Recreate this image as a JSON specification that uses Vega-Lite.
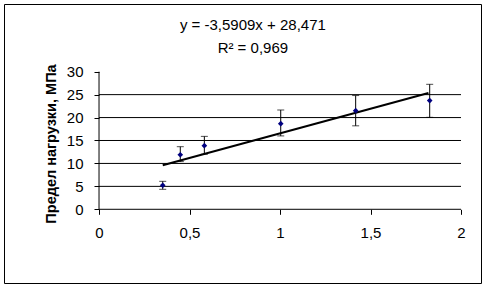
{
  "$schema": "https://vega.github.io/schema/vega-lite/v6.json",
  "width": 477,
  "height": 279,
  "autosize": "none",
  "padding": {"left": 4, "top": 4, "right": 6, "bottom": 5},
  "background": "white",
  "config": {
    "view": {"stroke": "#000", "strokeWidth": 1},
    "font": "Liberation Sans"
  },
  "datasets": {
    "lines": [
      {"x": 0, "x2": 2, "y": 0, "y2": 0},
      {"x": 0, "x2": 0, "y": 0, "y2": 30},
      {"x": 0, "x2": 2, "y": 5, "y2": 5},
      {"x": 0, "x2": 2, "y": 10, "y2": 10},
      {"x": 0, "x2": 2, "y": 15, "y2": 15},
      {"x": 0, "x2": 2, "y": 20, "y2": 20},
      {"x": 0, "x2": 2, "y": 25, "y2": 25}
    ],
    "points": [
      {"x": 0.352, "y": 5.23, "lo": 4.36, "hi": 6.1},
      {"x": 0.449, "y": 11.9, "lo": 10.4, "hi": 13.65},
      {"x": 0.582, "y": 13.87, "lo": 12.0, "hi": 15.9},
      {"x": 1.004, "y": 18.67, "lo": 16.0, "hi": 21.65},
      {"x": 1.418, "y": 21.5, "lo": 18.2, "hi": 24.8},
      {"x": 1.827, "y": 23.7, "lo": 20.05, "hi": 27.25}
    ],
    "trend": [
      {"x": 0.352, "y": 9.6},
      {"x": 1.82, "y": 25.35}
    ],
    "labels": [
      {"x": 0.85, "y": 40.2, "text": "y = -3,5909x + 28,471"},
      {"x": 0.85, "y": 35.2, "text": "R² = 0,969"}
    ]
  },
  "layer": [
    {
      "data": {"name": "lines"},
      "mark": {"type": "rule", "color": "#000", "strokeWidth": 1},
      "encoding": {
        "x": {
          "field": "x", "type": "quantitative",
          "scale": {"domain": [-0.525, 2.1105], "nice": false, "zero": false},
          "axis": {
            "orient": "bottom", "offset": -73.7, "values": [0, 0.5, 1, 1.5, 2],
            "format": "~g", "labelExpr": "replace(datum.label, '.', ',')",
            "domain": false, "grid": false, "title": null,
            "tickColor": "#000", "tickSize": 5, "labelColor": "#000",
            "labelFontSize": 15, "labelPadding": 11, "labelFont": "Liberation Sans"
          }
        },
        "x2": {"field": "x2"},
        "y": {
          "field": "y", "type": "quantitative",
          "scale": {"domain": [-16.07, 44.76], "nice": false, "zero": false},
          "axis": {
            "orient": "left", "offset": -95, "values": [0, 5, 10, 15, 20, 25, 30],
            "format": "d", "domain": false, "grid": false,
            "title": "Предел нагрузки, МПа",
            "titleFont": "Liberation Sans", "titleFontSize": 14.5, "titleFontWeight": "bold",
            "titleColor": "#000", "titlePadding": 8,
            "tickColor": "#000", "tickSize": 5, "labelColor": "#000",
            "labelFontSize": 15, "labelPadding": 11, "labelFont": "Liberation Sans"
          }
        },
        "y2": {"field": "y2"}
      }
    },
    {
      "data": {"name": "trend"},
      "mark": {"type": "line", "color": "#000", "strokeWidth": 2},
      "encoding": {
        "x": {"field": "x", "type": "quantitative"},
        "y": {"field": "y", "type": "quantitative"}
      }
    },
    {
      "data": {"name": "points"},
      "mark": {"type": "rule", "color": "#000", "strokeWidth": 1},
      "encoding": {
        "x": {"field": "x", "type": "quantitative"},
        "y": {"field": "lo", "type": "quantitative"},
        "y2": {"field": "hi"}
      }
    },
    {
      "data": {"name": "points"},
      "mark": {"type": "tick", "orient": "horizontal", "color": "#000", "size": 7, "thickness": 1},
      "encoding": {
        "x": {"field": "x", "type": "quantitative"},
        "y": {"field": "lo", "type": "quantitative"}
      }
    },
    {
      "data": {"name": "points"},
      "mark": {"type": "tick", "orient": "horizontal", "color": "#000", "size": 7, "thickness": 1},
      "encoding": {
        "x": {"field": "x", "type": "quantitative"},
        "y": {"field": "hi", "type": "quantitative"}
      }
    },
    {
      "data": {"name": "points"},
      "mark": {"type": "point", "shape": "diamond", "filled": true, "color": "#000080", "size": 32, "opacity": 1},
      "encoding": {
        "x": {"field": "x", "type": "quantitative"},
        "y": {"field": "y", "type": "quantitative"}
      }
    },
    {
      "data": {"name": "labels"},
      "mark": {"type": "text", "color": "#000", "fontSize": 15, "font": "Liberation Sans", "align": "center", "baseline": "middle"},
      "encoding": {
        "x": {"field": "x", "type": "quantitative"},
        "y": {"field": "y", "type": "quantitative"},
        "text": {"field": "text"}
      }
    }
  ]
}
